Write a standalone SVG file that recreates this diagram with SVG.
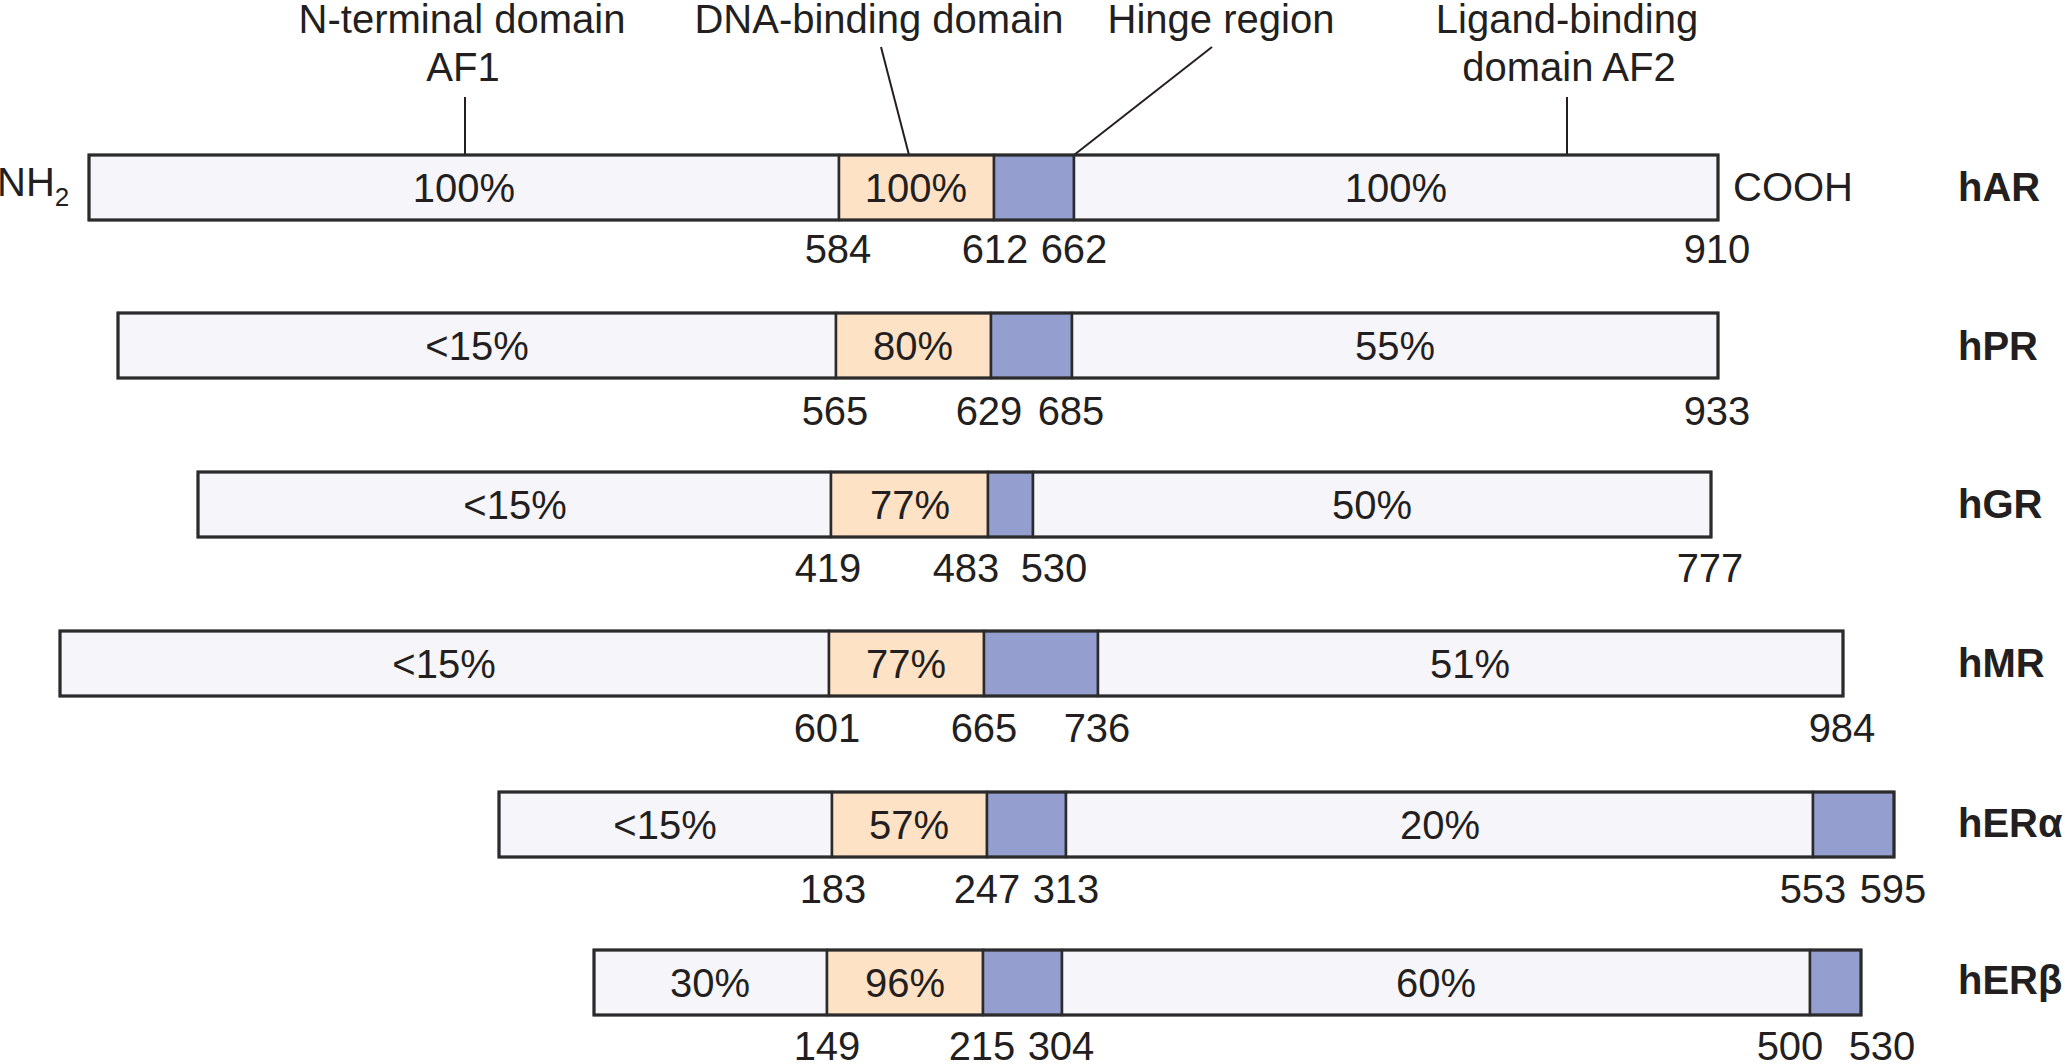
<svg xmlns="http://www.w3.org/2000/svg" width="2065" height="1064" viewBox="0 0 2065 1064">
<style>
text{font-family:"Liberation Sans",Arial,sans-serif;font-size:40px;fill:#231f20}
.m{text-anchor:middle}
.b{font-weight:bold}
.pale{fill:#f6f5fa;stroke:#2b2b2b;stroke-width:2.5}
.dbd{fill:#fde2c6;stroke:#2b2b2b;stroke-width:2.5}
.hin{fill:#949fcf;stroke:#2b2b2b;stroke-width:2.5}
.out{fill:none;stroke:#2b2b2b;stroke-width:3}
.ld{stroke:#231f20;stroke-width:2;fill:none}
</style>
<rect width="2065" height="1064" fill="#ffffff"/>
<g id="labels-top">
<text class="m" x="462" y="33">N-terminal domain</text>
<text class="m" x="463" y="81">AF1</text>
<text class="m" x="879" y="33">DNA-binding domain</text>
<text class="m" x="1221" y="33">Hinge region</text>
<text class="m" x="1567" y="33">Ligand-binding</text>
<text class="m" x="1569" y="81">domain AF2</text>
</g>
<g id="connectors">
<line class="ld" x1="465" y1="97" x2="465" y2="155"/>
<line class="ld" x1="881" y1="47" x2="909" y2="155"/>
<line class="ld" x1="1212" y1="47" x2="1074" y2="155"/>
<line class="ld" x1="1567" y1="97" x2="1567" y2="155"/>
</g>
<g id="hAR">
<rect class="pale" x="89" y="155" width="750" height="65"/>
<rect class="dbd" x="839" y="155" width="155" height="65"/>
<rect class="hin" x="994" y="155" width="80" height="65"/>
<rect class="pale" x="1074" y="155" width="644" height="65"/>
<rect class="out" x="89" y="155" width="1629" height="65"/>
<text class="m" x="464" y="202">100%</text>
<text class="m" x="916" y="202">100%</text>
<text class="m" x="1396" y="202">100%</text>
<text x="-3" y="196" font-size="38">NH<tspan font-size="26" dy="10">2</tspan></text>
<text x="1733" y="201">COOH</text>
<text class="b" x="1958" y="201">hAR</text>
<text class="m" x="838" y="263">584</text>
<text class="m" x="995" y="263">612</text>
<text class="m" x="1074" y="263">662</text>
<text class="m" x="1717" y="263">910</text>
</g>
<g id="hPR">
<rect class="pale" x="118" y="313" width="718" height="65"/>
<rect class="dbd" x="836" y="313" width="155" height="65"/>
<rect class="hin" x="991" y="313" width="81" height="65"/>
<rect class="pale" x="1072" y="313" width="646" height="65"/>
<rect class="out" x="118" y="313" width="1600" height="65"/>
<text class="m" x="477" y="360">&lt;15%</text>
<text class="m" x="913" y="360">80%</text>
<text class="m" x="1395" y="360">55%</text>
<text class="b" x="1958" y="360">hPR</text>
<text class="m" x="835" y="425">565</text>
<text class="m" x="989" y="425">629</text>
<text class="m" x="1071" y="425">685</text>
<text class="m" x="1717" y="425">933</text>
</g>
<g id="hGR">
<rect class="pale" x="198" y="472" width="633" height="65"/>
<rect class="dbd" x="831" y="472" width="157" height="65"/>
<rect class="hin" x="988" y="472" width="45" height="65"/>
<rect class="pale" x="1033" y="472" width="678" height="65"/>
<rect class="out" x="198" y="472" width="1513" height="65"/>
<text class="m" x="515" y="519">&lt;15%</text>
<text class="m" x="910" y="519">77%</text>
<text class="m" x="1372" y="519">50%</text>
<text class="b" x="1958" y="518">hGR</text>
<text class="m" x="828" y="582">419</text>
<text class="m" x="966" y="582">483</text>
<text class="m" x="1054" y="582">530</text>
<text class="m" x="1710" y="582">777</text>
</g>
<g id="hMR">
<rect class="pale" x="60" y="631" width="769" height="65"/>
<rect class="dbd" x="829" y="631" width="155" height="65"/>
<rect class="hin" x="984" y="631" width="114" height="65"/>
<rect class="pale" x="1098" y="631" width="745" height="65"/>
<rect class="out" x="60" y="631" width="1783" height="65"/>
<text class="m" x="444" y="678">&lt;15%</text>
<text class="m" x="906" y="678">77%</text>
<text class="m" x="1470" y="678">51%</text>
<text class="b" x="1958" y="677">hMR</text>
<text class="m" x="827" y="742">601</text>
<text class="m" x="984" y="742">665</text>
<text class="m" x="1097" y="742">736</text>
<text class="m" x="1842" y="742">984</text>
</g>
<g id="hERa">
<rect class="pale" x="499" y="792" width="333" height="65"/>
<rect class="dbd" x="832" y="792" width="155" height="65"/>
<rect class="hin" x="987" y="792" width="79" height="65"/>
<rect class="pale" x="1066" y="792" width="747" height="65"/>
<rect class="hin" x="1813" y="792" width="81" height="65"/>
<rect class="out" x="499" y="792" width="1395" height="65"/>
<text class="m" x="665" y="839">&lt;15%</text>
<text class="m" x="909" y="839">57%</text>
<text class="m" x="1440" y="839">20%</text>
<text class="b" x="1958" y="837">hERα</text>
<text class="m" x="833" y="903">183</text>
<text class="m" x="987" y="903">247</text>
<text class="m" x="1066" y="903">313</text>
<text class="m" x="1813" y="903">553</text>
<text class="m" x="1893" y="903">595</text>
</g>
<g id="hERb">
<rect class="pale" x="594" y="950" width="233" height="65"/>
<rect class="dbd" x="827" y="950" width="156" height="65"/>
<rect class="hin" x="983" y="950" width="79" height="65"/>
<rect class="pale" x="1062" y="950" width="748" height="65"/>
<rect class="hin" x="1810" y="950" width="51" height="65"/>
<rect class="out" x="594" y="950" width="1267" height="65"/>
<text class="m" x="710" y="997">30%</text>
<text class="m" x="905" y="997">96%</text>
<text class="m" x="1436" y="997">60%</text>
<text class="b" x="1958" y="994">hERβ</text>
<text class="m" x="827" y="1060">149</text>
<text class="m" x="982" y="1060">215</text>
<text class="m" x="1061" y="1060">304</text>
<text class="m" x="1790" y="1060">500</text>
<text class="m" x="1882" y="1060">530</text>
</g>
</svg>
